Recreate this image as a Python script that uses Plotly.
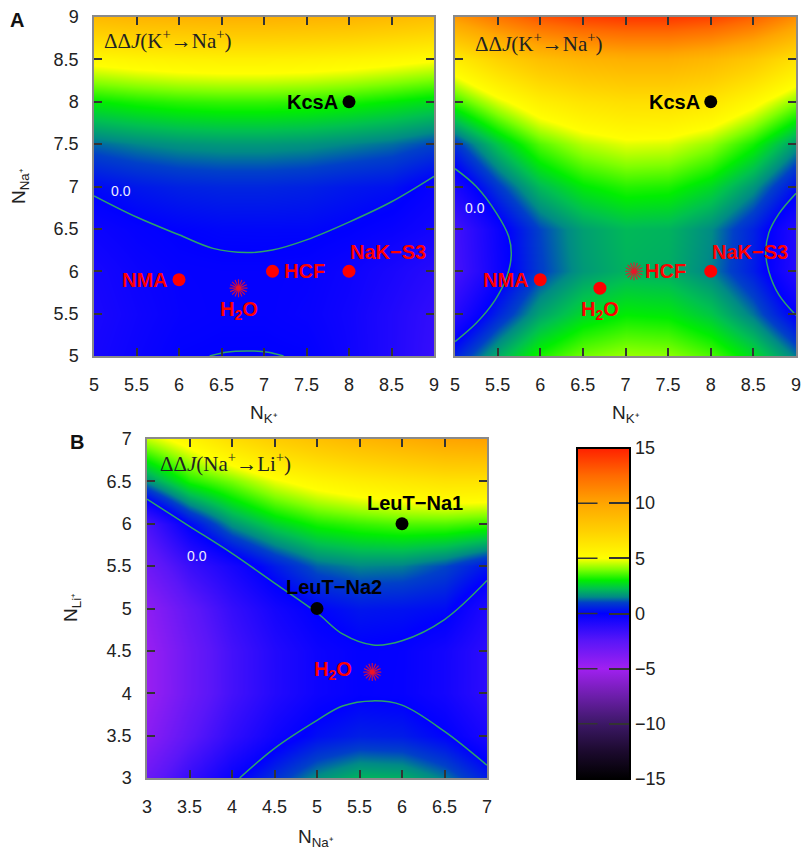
import plotly.graph_objects as go

# ---------------- data ----------------
# Panel A (both): N_K+ on x, N_Na+ on y
a_x = [5, 5.5, 6, 6.5, 7, 7.5, 8, 8.5, 9]
a_y = [5, 5.5, 6, 6.5, 7, 7.5, 8, 8.5, 9]

# ΔΔJ(K+→Na+) left panel (rows: y = 5 ... 9)
z_a1 = [
    [-0.6, -0.3, -0.04, 0.01, 0.012, -0.03, -0.4, -0.9, -1.5],
    [-0.7, -0.4, -0.17, -0.1, -0.1, -0.2, -0.45, -0.9, -1.4],
    [-0.6, -0.3, -0.13, -0.1, -0.1, -0.14, -0.35, -0.7, -1.1],
    [-0.33, -0.11, 0.01, 0.09, 0.1, 0.1, -0.005, -0.2, -0.5],
    [0.13, 0.35, 0.5, 0.57, 0.57, 0.5, 0.35, 0.25, -0.2],
    [1.25, 1.47, 1.62, 1.69, 1.69, 1.62, 1.47, 1.3, 1.0],
    [2.95, 3.17, 3.32, 3.39, 3.39, 3.32, 3.17, 2.95, 2.7],
    [5.35, 5.57, 5.72, 5.79, 5.79, 5.72, 5.57, 5.35, 5.1],
    [8.8, 9.1, 9.2, 9.3, 9.3, 9.2, 9.1, 8.8, 8.5],
]

# ΔΔJ(K+→Na+) right panel
z_a2 = [
    [0.5, 2.0, 3.2, 3.9, 4.2, 4.1, 3.6, 2.7, 1.4],
    [-1.0, 0.55, 1.85, 2.62, 2.98, 2.9, 2.35, 1.35, -0.1],
    [-1.92, -0.37, 0.93, 1.7, 2.06, 1.98, 1.43, 0.43, -1.02],
    [-1.83, -0.28, 1.02, 1.79, 2.15, 2.07, 1.52, 0.52, -0.93],
    [-0.7, 0.85, 2.15, 2.92, 3.28, 3.2, 2.65, 1.65, 0.2],
    [0.8, 2.35, 3.65, 4.42, 4.78, 4.7, 4.15, 3.15, 1.7],
    [3.4, 4.7, 5.8, 6.4, 6.7, 6.7, 6.3, 5.3, 4.0],
    [6.0, 7.4, 8.5, 9.1, 9.4, 9.4, 8.9, 8.0, 6.6],
    [10.5, 12.0, 13.2, 13.9, 14.2, 14.2, 13.8, 12.8, 11.0],
]

# Panel B: N_Na+ on x, N_Li+ on y
b_x = [3, 3.5, 4, 4.5, 5, 5.5, 6, 6.5, 7]
b_y = [3, 3.5, 4, 4.5, 5, 5.5, 6, 6.5, 7]
z_b = [
    [-3.03, -1.44, -0.18, 0.75, 1.6, 2.1, 2.0, 1.4, 0.45],
    [-4.17, -2.58, -1.32, -0.39, 0.21, 0.48, 0.42, 0.03, -0.69],
    [-4.73, -3.14, -1.88, -0.95, -0.35, -0.08, -0.14, -0.53, -1.25],
    [-4.72, -3.13, -1.87, -0.94, -0.34, -0.07, -0.13, -0.52, -1.24],
    [-4.32, -2.73, -1.47, -0.54, 0.04, 0.33, 0.27, 0.15, -0.84],
    [-3.17, -1.58, -0.6, 0.4, 1.21, 1.48, 1.42, 1.03, 0.31],
    [-2.0, 0.1, 1.62, 2.55, 3.15, 3.42, 3.6, 3.6, 3.4],
    [1.6, 3.2, 3.93, 4.86, 5.46, 5.9, 6.2, 6.5, 6.5],
    [4.5, 5.52, 6.78, 7.71, 8.4, 9.0, 9.5, 10.0, 10.2],
]

# ΔΔJ = 0.0 contour lines
a1_c_upper_x = [5.0, 5.5, 6.0, 6.4, 6.8, 7.1, 7.5, 8.0, 8.5, 9.0]
a1_c_upper_y = [6.89, 6.64, 6.43, 6.27, 6.22, 6.25, 6.37, 6.58, 6.82, 7.12]
a1_c_lower_x = [6.36, 6.55, 6.8, 7.05, 7.23]
a1_c_lower_y = [5.0, 5.045, 5.06, 5.045, 5.0]

a2_c_left_x = [5.0, 5.25, 5.49, 5.63, 5.66, 5.61, 5.47, 5.25, 5.0]
a2_c_left_y = [7.21, 7.0, 6.68, 6.41, 6.19, 5.94, 5.66, 5.39, 5.17]
a2_c_right_x = [9.0, 8.8, 8.68, 8.645, 8.68, 8.8, 9.0]
a2_c_right_y = [6.92, 6.68, 6.45, 6.22, 6.0, 5.72, 5.48]

b_c_upper_x = [3.0, 3.5, 4.0, 4.5, 5.0, 5.3, 5.66, 6.0, 6.5, 7.0]
b_c_upper_y = [6.29, 5.97, 5.65, 5.3, 4.95, 4.7, 4.57, 4.62, 4.87, 5.33]
b_c_lower_x = [4.09, 4.5, 5.0, 5.3, 5.66, 6.0, 6.5, 7.0]
b_c_lower_y = [3.0, 3.35, 3.68, 3.85, 3.91, 3.86, 3.55, 3.15]

# marked systems
a1_names = ["KcsA", "NMA", "H<sub>2</sub>O", "HCF", "NaK\u2212S3"]
a1_px = [8, 6, 6.7, 7.1, 8]
a1_py = [8, 5.9, 5.8, 6.0, 6.0]
a1_col = ["black", "red", "red", "red", "red"]
a1_burst = [False, False, True, False, False]
a1_pos = ["left", "left", "below", "right", "aboveright"]

a2_names = ["KcsA", "NMA", "H<sub>2</sub>O", "HCF", "NaK\u2212S3"]
a2_px = [8, 6, 6.7, 7.1, 8]
a2_py = [8, 5.9, 5.8, 6.0, 6.0]
a2_col = ["black", "red", "red", "red", "red"]
a2_burst = [False, False, False, True, False]
a2_pos = ["left", "left", "below", "right", "aboveright"]

b_names = ["LeuT\u2212Na1", "LeuT\u2212Na2", "H<sub>2</sub>O"]
b_px = [6, 5, 5.65]
b_py = [6, 5, 4.25]
b_col = ["black", "black", "red"]
b_burst = [False, False, True]
b_pos = ["above1", "above2", "left2"]

cbar_ticks = [-15, -10, -5, 0, 5, 10, 15]

# ---------------- style ----------------
W, H = 806, 850
SANS = "Liberation Sans, Arial, sans-serif"
SERIF = "Liberation Serif, Times New Roman, serif"
CONTOUR_COL = "#2ea36a"
BURST_COL = "rgba(235,20,40,0.85)"

cs = [
    [0.0, "#000000"], [0.0833, "#1c0a2e"], [0.1667, "#3c1866"], [0.25, "#6c1eaa"],
    [0.3333, "#a020f0"], [0.4167, "#5a16f8"], [0.5, "#0000ff"], [0.533, "#0040c8"],
    [0.55, "#008a86"], [0.575, "#00c050"], [0.6, "#00ee00"], [0.6333, "#80ff00"],
    [0.6667, "#ffff00"], [0.75, "#ffd000"], [0.8333, "#ffa500"], [0.9167, "#ff6a00"],
    [1.0, "#ff2000"],
]


def px2paper_x(p):
    return p / W


def px2paper_y(p):
    return 1 - p / H


dom = {
    "a1x": [px2paper_x(94), px2paper_x(434)],
    "a2x": [px2paper_x(455), px2paper_x(796)],
    "ay": [px2paper_y(356), px2paper_y(17)],
    "bx": [px2paper_x(147), px2paper_x(487)],
    "by": [px2paper_y(778), px2paper_y(439)],
}

fig = go.Figure()

cb_bottom = px2paper_y(779)
cb_len = 331 / H

panels = [
    ("x", "y", a_x, a_y, z_a1),
    ("x2", "y2", a_x, a_y, z_a2),
    ("x3", "y3", b_x, b_y, z_b),
]
for i, (xa, ya, xs, ys, zz) in enumerate(panels):
    fig.add_trace(go.Heatmap(
        x=xs, y=ys, z=zz, zmin=-15, zmax=15, colorscale=cs, zsmooth="best",
        xaxis=xa, yaxis=ya, hoverinfo="skip", showscale=(i == 0),
        colorbar=dict(
            x=px2paper_x(577), xanchor="left", y=cb_bottom, yanchor="bottom",
            len=cb_len, lenmode="fraction", thickness=53, thicknessmode="pixels",
            outlinewidth=2, outlinecolor="black", xpad=0, ypad=0,
            tickvals=cbar_ticks, ticks="inside", ticklen=22, tickwidth=1.5,
            tickcolor="#333", tickfont=dict(family=SANS, size=18, color="#222"),
        ),
    ))

contours = [
    ("x", "y", a1_c_upper_x, a1_c_upper_y), ("x", "y", a1_c_lower_x, a1_c_lower_y),
    ("x2", "y2", a2_c_left_x, a2_c_left_y), ("x2", "y2", a2_c_right_x, a2_c_right_y),
    ("x3", "y3", b_c_upper_x, b_c_upper_y), ("x3", "y3", b_c_lower_x, b_c_lower_y),
]
for xa, ya, cx, cy in contours:
    fig.add_trace(go.Scatter(
        x=cx, y=cy, xaxis=xa, yaxis=ya, mode="lines", hoverinfo="skip",
        line=dict(color=CONTOUR_COL, width=1.5, shape="spline", smoothing=1.0),
        showlegend=False))

ann = []


def add_points(xa, ya, names, pxs, pys, cols, bursts, poss):
    for n, x, y, c, b, p in zip(names, pxs, pys, cols, bursts, poss):
        if b:
            for ang in (0, 22.5):
                fig.add_trace(go.Scatter(
                    x=[x], y=[y], xaxis=xa, yaxis=ya, mode="markers", hoverinfo="skip",
                    marker=dict(symbol="asterisk-open", size=15, angle=ang, color=BURST_COL,
                                line=dict(color=BURST_COL, width=1.2)),
                    showlegend=False))
            fig.add_trace(go.Scatter(
                x=[x], y=[y], xaxis=xa, yaxis=ya, mode="markers", hoverinfo="skip",
                marker=dict(symbol="circle", size=5, color=BURST_COL, line=dict(width=0)),
                showlegend=False))
        else:
            fig.add_trace(go.Scatter(
                x=[x], y=[y], xaxis=xa, yaxis=ya, mode="markers", hoverinfo="skip",
                marker=dict(symbol="circle", size=13, color=c, line=dict(width=0)),
                showlegend=False))
        d = dict(x=x, y=y, xref=xa, yref=ya, text="<b>%s</b>" % n, showarrow=False,
                 font=dict(family=SANS, size=20, color=c))
        if p == "left":
            d.update(xanchor="right", yanchor="middle", xshift=-9)
        elif p == "left2":
            d.update(xanchor="right", yanchor="middle", xshift=-18, yshift=2)
        elif p == "right":
            d.update(xanchor="left", yanchor="middle", xshift=9)
        elif p == "below":
            d.update(xanchor="center", yanchor="top", yshift=-8)
        elif p == "aboveright":
            d.update(xanchor="left", yanchor="bottom", xshift=-1, yshift=6)
        elif p == "above1":
            d.update(xanchor="center", yanchor="bottom", xshift=13, yshift=8)
        elif p == "above2":
            d.update(xanchor="center", yanchor="bottom", xshift=17, yshift=9)
        ann.append(d)


add_points("x", "y", a1_names, a1_px, a1_py, a1_col, a1_burst, a1_pos)
add_points("x2", "y2", a2_names, a2_px, a2_py, a2_col, a2_burst, a2_pos)
add_points("x3", "y3", b_names, b_px, b_py, b_col, b_burst, b_pos)

# panel texts
ddj_k = "\u0394\u0394<i>J</i>(K<sup>+</sup>\u2192Na<sup>+</sup>)"
ddj_na = "\u0394\u0394<i>J</i>(Na<sup>+</sup>\u2192Li<sup>+</sup>)"
for xa, ya, x, y, t in [("x", "y", 5.09, 8.73, ddj_k), ("x2", "y2", 5.21, 8.70, ddj_k),
                        ("x3", "y3", 3.13, 6.72, ddj_na)]:
    ann.append(dict(x=x, y=y, xref=xa, yref=ya, text=t, showarrow=False, xanchor="left",
                    yanchor="middle", font=dict(family=SERIF, size=21, color="#222")))

for xa, ya, x, y in [("x", "y", 5.32, 6.95), ("x2", "y2", 5.23, 6.75), ("x3", "y3", 3.59, 5.62)]:
    ann.append(dict(x=x, y=y, xref=xa, yref=ya, text="0.0", showarrow=False,
                    xanchor="center", yanchor="middle",
                    font=dict(family=SANS, size=14, color="#eeeeff")))

# axis titles
k_lab = "N<sub>K\u207a</sub>"
na_lab = "N<sub>Na\u207a</sub>"
li_lab = "N<sub>Li\u207a</sub>"
for x, y, t, ang in [(264, 414, k_lab, 0), (626, 414, k_lab, 0), (316, 838, na_lab, 0),
                     (20, 186, na_lab, -90), (72, 608, li_lab, -90)]:
    ann.append(dict(x=px2paper_x(x), y=px2paper_y(y), xref="paper", yref="paper", text=t,
                    showarrow=False, textangle=ang, xanchor="center", yanchor="middle",
                    font=dict(family=SANS, size=19, color="#222")))

# panel letters
for x, y, t in [(17, 20, "A"), (77, 442, "B")]:
    ann.append(dict(x=px2paper_x(x), y=px2paper_y(y), xref="paper", yref="paper",
                    text="<b>%s</b>" % t, showarrow=False, xanchor="center", yanchor="middle",
                    font=dict(family=SANS, size=20, color="#111")))

# left half of the dashed tick marks across the colour bar
for v in cbar_ticks[1:-1]:
    yy = cb_bottom + (v + 15) / 30 * cb_len
    ann.append(dict(x=px2paper_x(578), y=yy, xref="paper", yref="paper", text="",
                    showarrow=True, arrowhead=0, arrowwidth=1.5, arrowcolor="#333",
                    ax=21, ay=0, standoff=0, startstandoff=0))

axis_common = dict(
    showline=True, linecolor="#8a8a8a", linewidth=1.5, mirror="ticks",
    ticks="inside", ticklen=8, tickwidth=1.5, tickcolor="#333",
    tickfont=dict(family=SANS, size=18, color="#222"), dtick=0.5,
    showgrid=False, zeroline=False, fixedrange=True, automargin=False,
)

fig.update_layout(
    width=W, height=H, margin=dict(l=0, r=0, t=0, b=0, autoexpand=False),
    paper_bgcolor="white", plot_bgcolor="white", showlegend=False,
    xaxis=dict(axis_common, domain=dom["a1x"], range=[5, 9], tick0=5, anchor="y",
               ticklabelstandoff=12),
    yaxis=dict(axis_common, domain=dom["ay"], range=[5, 9], tick0=5, anchor="x",
               ticklabelstandoff=10),
    xaxis2=dict(axis_common, domain=dom["a2x"], range=[5, 9], tick0=5, anchor="y2",
                ticklabelstandoff=12),
    yaxis2=dict(axis_common, domain=dom["ay"], range=[5, 9], tick0=5, anchor="x2",
                showticklabels=False),
    xaxis3=dict(axis_common, domain=dom["bx"], range=[3, 7], tick0=3, anchor="y3",
                ticklabelstandoff=12),
    yaxis3=dict(axis_common, domain=dom["by"], range=[3, 7], tick0=3, anchor="x3",
                ticklabelstandoff=10),
    annotations=ann,
    font=dict(family=SANS),
)

fig.write_html("out.html")
